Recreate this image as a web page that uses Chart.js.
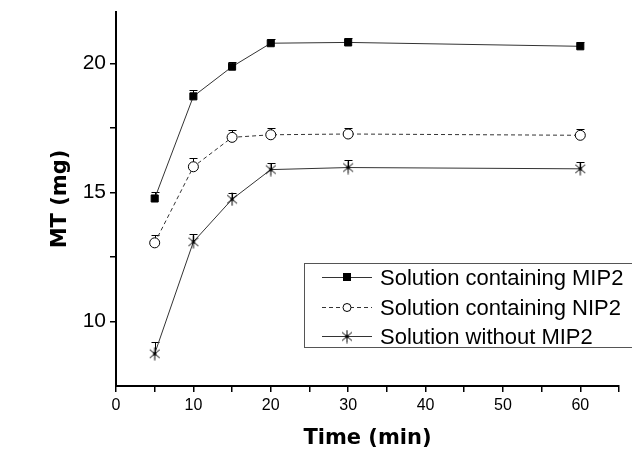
<!DOCTYPE html>
<html>
<head>
<meta charset="utf-8">
<script src="https://cdn.jsdelivr.net/npm/chart.js@4.4.1/dist/chart.umd.min.js"></script>
<style>
  html, body { margin: 0; padding: 0; background: #fff; }
</style>
</head>
<body>
<canvas id="chart" width="632" height="453"></canvas>
<script>
// sampling times (min)
const times = [5, 10, 15, 20, 30, 60];

// mean MT (mg) and error for each solution
const mip2 = [14.77, 18.73, 19.88, 20.79, 20.82, 20.67];
const mip2Err = [0.24, 0.26, 0.2, 0.15, 0.17, 0.15];
const nip2 = [13.05, 16.0, 17.14, 17.24, 17.27, 17.22];
const nip2Err = [0.3, 0.35, 0.27, 0.26, 0.24, 0.24];
const noMip = [8.75, 13.09, 14.74, 15.89, 15.97, 15.92];
const noMipErr = [0.45, 0.32, 0.23, 0.26, 0.28, 0.26];

const seriesNames = ["Solution containing MIP2", "Solution containing NIP2", "Solution without MIP2"];
const xTickLabels = [0, 10, 20, 30, 40, 50, 60];
const yTickLabels = [10, 15, 20];

// asterisk marker: vertical bar + two diagonals with a dot in the middle
function asterisk(size) {
  const c = document.createElement("canvas");
  c.width = c.height = size;
  const g = c.getContext("2d");
  const m = size / 2, r = size / 2 - 0.5;
  g.strokeStyle = "#000";
  g.lineWidth = 1;
  g.beginPath();
  [90, 40, 140].forEach(deg => {
    const a = deg * Math.PI / 180;
    g.moveTo(m + r * Math.cos(a), m - r * Math.sin(a));
    g.lineTo(m - r * Math.cos(a), m + r * Math.sin(a));
  });
  g.stroke();
  g.fillStyle = "#000";
  g.fillRect(m - 1.5, m - 1.5, 3, 3);
  return c;
}
const starMarker = asterisk(14);

const toPoints = ys => times.map((t, i) => ({ x: t, y: ys[i] }));

const datasets = [
  {
    label: seriesNames[0],
    data: toPoints(mip2),
    errors: mip2Err,
    borderColor: "#333",
    borderWidth: 1,
    pointStyle: "rect",
    pointRadius: 5,
    pointBackgroundColor: "#000",
    pointBorderColor: "#000",
    pointBorderWidth: 1
  },
  {
    label: seriesNames[1],
    data: toPoints(nip2),
    errors: nip2Err,
    borderColor: "#333",
    borderWidth: 1,
    borderDash: [4, 3],
    pointStyle: "circle",
    pointRadius: 5,
    pointBackgroundColor: "#fff",
    pointBorderColor: "#000",
    pointBorderWidth: 1
  },
  {
    label: seriesNames[2],
    data: toPoints(noMip),
    errors: noMipErr,
    borderColor: "#333",
    borderWidth: 1,
    pointStyle: starMarker,
    pointRadius: 7,
    pointBackgroundColor: "#000",
    pointBorderColor: "#000"
  }
];

// upper error bars with a cap, drawn under the markers
const errorBars = {
  id: "errorBars",
  beforeDatasetsDraw(chart) {
    const ctx = chart.ctx;
    const xs = chart.scales.x, ys = chart.scales.y;
    ctx.save();
    ctx.strokeStyle = "#000";
    ctx.lineWidth = 1;
    chart.data.datasets.forEach(ds => {
      ds.data.forEach((p, i) => {
        const px = Math.round(xs.getPixelForValue(p.x)) + 0.5;
        const y0 = ys.getPixelForValue(p.y);
        const y1 = Math.round(ys.getPixelForValue(p.y + ds.errors[i])) + 0.5;
        ctx.beginPath();
        ctx.moveTo(px, y0);
        ctx.lineTo(px, y1);
        ctx.moveTo(px - 4, y1);
        ctx.lineTo(px + 4, y1);
        ctx.stroke();
      });
    });
    ctx.restore();
  }
};

// boxed legend with line + marker samples
const boxLegend = {
  id: "boxLegend",
  afterDraw(chart) {
    const ctx = chart.ctx;
    const left = 304, top = 263, w = 340, h = 84, rowH = 29.5;
    ctx.save();
    ctx.strokeStyle = "#555";
    ctx.lineWidth = 1;
    ctx.strokeRect(left + 0.5, top + 0.5, w, h);
    ctx.font = '22px "Liberation Sans", Arial, sans-serif';
    ctx.textBaseline = "middle";
    chart.data.datasets.forEach((ds, i) => {
      const y = Math.round(top + 14 + i * rowH) + 0.5;
      ctx.strokeStyle = ds.borderColor;
      ctx.lineWidth = 1;
      ctx.setLineDash(ds.borderDash || []);
      ctx.beginPath();
      ctx.moveTo(322, y);
      ctx.lineTo(372, y);
      ctx.stroke();
      ctx.setLineDash([]);
      ctx.fillStyle = ds.pointBackgroundColor;
      ctx.strokeStyle = ds.pointBorderColor;
      if (ds.pointStyle === "rect") {
        ctx.fillRect(343, y - 4.5, 8, 8);
      } else if (ds.pointStyle === "circle") {
        ctx.beginPath();
        ctx.arc(347, y, 4, 0, Math.PI * 2);
        ctx.fillStyle = "#fff";
        ctx.fill();
        ctx.stroke();
      } else {
        Chart.helpers.drawPoint(ctx, { pointStyle: ds.pointStyle, rotation: 0, borderWidth: 1, radius: 6 }, 347, y);
      }
      ctx.fillStyle = "#000";
      ctx.fillText(ds.label, 380, y + 1);
    });
    ctx.restore();
  }
};

const tickFont = { family: '"Liberation Sans", Arial, sans-serif' };

new Chart(document.getElementById("chart"), {
  type: "line",
  data: { datasets },
  plugins: [errorBars, boxLegend],
  options: {
    responsive: false,
    animation: false,
    layout: { padding: { top: 12, right: 13, left: 0, bottom: 0 } },
    plugins: {
      legend: { display: false },
      tooltip: { enabled: false }
    },
    scales: {
      x: {
        type: "linear",
        min: 0,
        max: 65,
        afterBuildTicks: s => {
          s.ticks = [];
          for (let v = 0; v <= 65; v += 5) s.ticks.push({ value: v });
        },
        afterFit: s => { s.height = 67; s.paddingLeft = 0; s.paddingRight = 0; },
        ticks: {
          autoSkip: false,
          maxRotation: 0,
          padding: 4,
          color: "#000",
          font: { ...tickFont, size: 16 },
          callback: v => xTickLabels.includes(v) ? String(v) : ""
        },
        grid: { drawOnChartArea: false, tickLength: 6, color: "#000", lineWidth: 1.5 },
        border: { color: "#000", width: 2 },
        title: {
          display: true,
          text: "Time (min)",
          color: "#000",
          padding: { top: 0, bottom: 2 },
          font: { family: '"DejaVu Sans", sans-serif', size: 21, weight: "bold" }
        }
      },
      y: {
        min: 7.5,
        max: 22,
        afterBuildTicks: s => {
          s.ticks = [];
          for (let v = 10; v <= 20; v += 2.5) s.ticks.push({ value: v });
        },
        afterFit: s => { s.width = 116; s.paddingTop = 0; s.paddingBottom = 0; },
        ticks: {
          autoSkip: false,
          padding: 4,
          color: "#000",
          font: { ...tickFont, size: 21 },
          callback: v => yTickLabels.includes(v) ? String(v) : ""
        },
        grid: { drawOnChartArea: false, tickLength: 6, color: "#000", lineWidth: 1.5 },
        border: { color: "#000", width: 2 },
        title: {
          display: true,
          text: "MT (mg)",
          color: "#000",
          padding: { top: 48, bottom: 0 },
          font: { family: '"DejaVu Sans", sans-serif', size: 21, weight: "bold" }
        }
      }
    }
  }
});
</script>
</body>
</html>
